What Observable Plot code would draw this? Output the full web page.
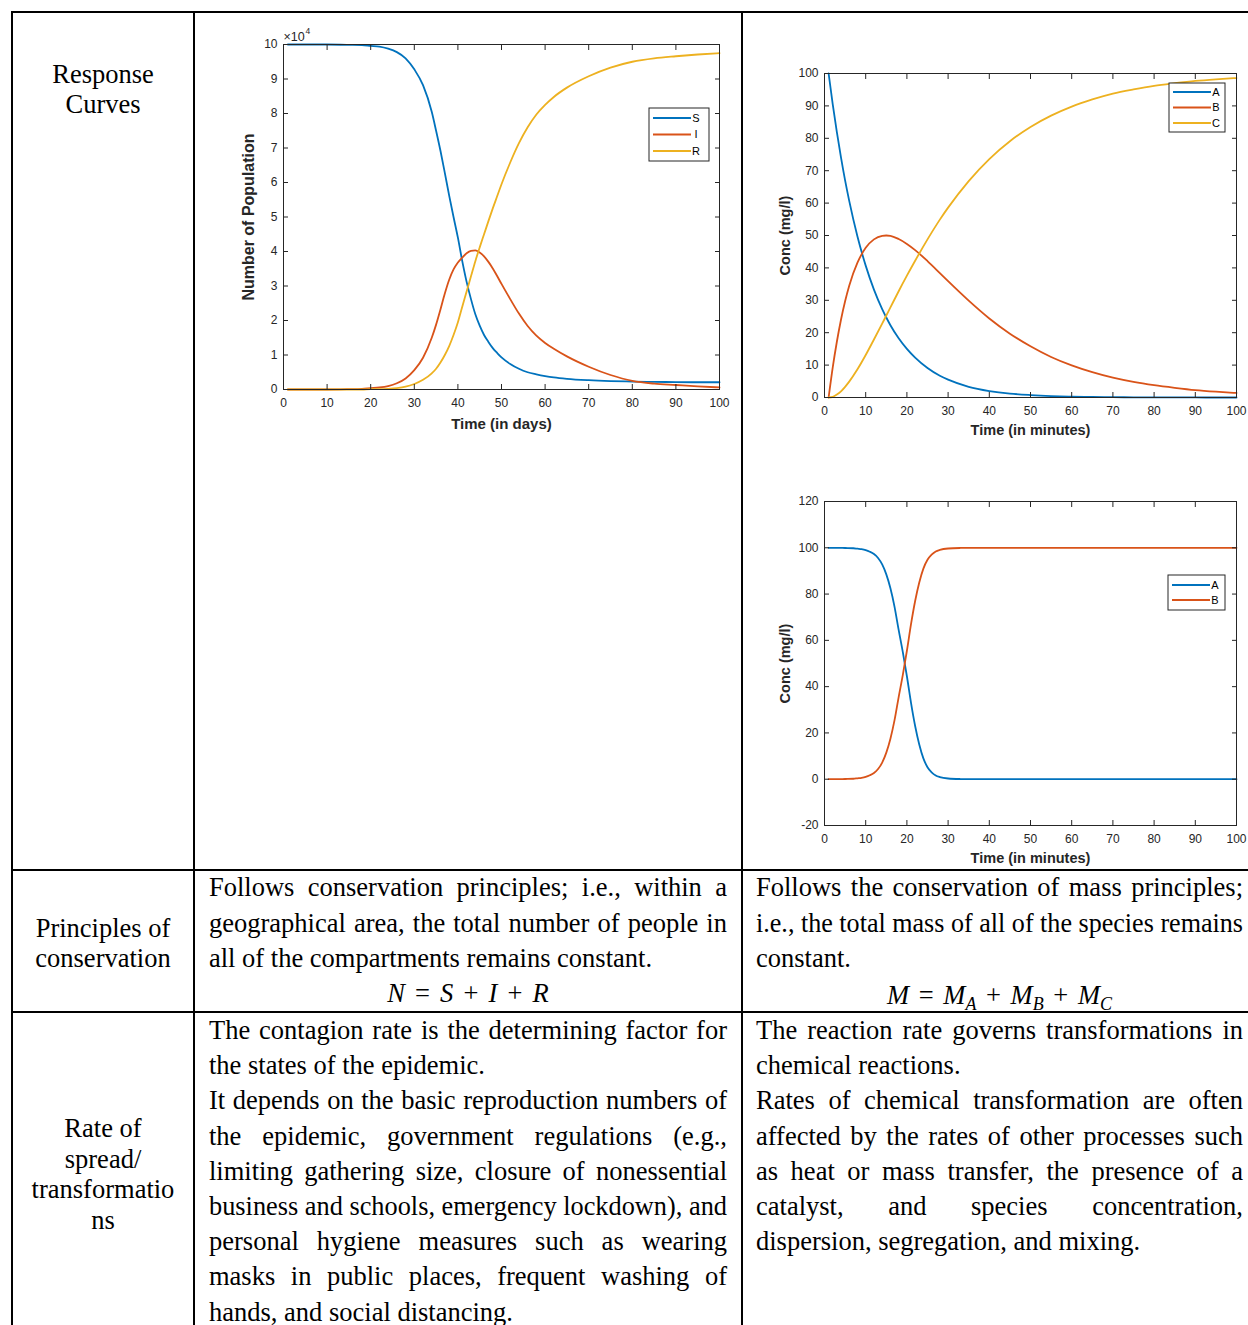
<!DOCTYPE html>
<html><head><meta charset="utf-8">
<script src="https://cdn.jsdelivr.net/npm/d3@7"></script>
<script src="https://cdn.jsdelivr.net/npm/@observablehq/plot@0.6"></script>
<style>
html,body{margin:0;padding:0;background:#fff;}
#page{position:relative;width:1248px;height:1325px;overflow:hidden;background:#fff;}
.rule{position:absolute;background:#000;}
.ln{position:absolute;white-space:nowrap;font-family:"Liberation Serif","Times New Roman",serif;font-size:26.5px;color:#000;height:30px;line-height:30px;}
.ln span{display:inline-block;transform-origin:left center;}
.math i{font-style:italic;}
.math sub{font-size:18px;vertical-align:-6px;line-height:0;}
</style></head><body><div id="page"></div>
<script>
// ---------- Chart 1: SIR model (values in units of 10^4) ----------
const sirDays = [1,5,10,15,18,20,22,24,26,28,30,32,34,35,36,37,38,39,40,41,42,43,44,45,46,47,48,49,50,52,54,56,58,60,62,65,70,75,80,85,90,95,100];
const sirS = [10,10,10,9.99,9.98,9.96,9.94,9.88,9.78,9.60,9.28,8.82,8.05,7.50,6.92,6.28,5.62,5.00,4.40,3.72,3.12,2.62,2.18,1.85,1.58,1.38,1.20,1.06,0.93,0.74,0.60,0.50,0.44,0.39,0.35,0.31,0.27,0.245,0.23,0.22,0.215,0.21,0.21];
const sirI = [0,0,0,0.01,0.02,0.04,0.06,0.10,0.18,0.32,0.56,0.92,1.50,1.88,2.32,2.78,3.18,3.48,3.68,3.82,3.95,4.02,4.03,3.97,3.86,3.70,3.51,3.29,3.06,2.62,2.20,1.84,1.56,1.35,1.18,0.96,0.66,0.42,0.25,0.17,0.13,0.09,0.06];
const sirR = [0,0,0,0,0,0.01,0.01,0.02,0.04,0.08,0.16,0.28,0.47,0.60,0.78,1.00,1.26,1.58,1.95,2.40,2.84,3.28,3.72,4.12,4.50,4.88,5.25,5.60,5.95,6.58,7.14,7.60,7.97,8.25,8.48,8.75,9.08,9.33,9.50,9.60,9.66,9.71,9.75];
const sirNames = ["S","I","R"];
const sirYTicks = [0,1,2,3,4,5,6,7,8,9,10];

// ---------- Chart 2: consecutive reaction A -> B -> C ----------
const rxnTime = [1,2,3,4,5,6,8,10,12,14,15,16,18,20,22,25,28,30,35,40,45,50,55,60,65,70,75,80,85,90,95,100];
const rxnA = [100,90.5,81.9,74.1,67.0,60.7,49.7,40.7,33.3,27.3,24.7,22.3,18.3,15.0,12.3,9.1,6.7,5.5,3.3,2.0,1.2,0.75,0.45,0.27,0.17,0.1,0.06,0.04,0.02,0.01,0,0];
const rxnB = [0,9.3,17.2,24.0,29.7,34.5,41.6,46.2,48.8,49.9,50.0,49.9,48.9,47.4,45.5,42.1,38.4,35.9,29.9,24.4,19.7,15.8,12.5,9.9,7.8,6.1,4.8,3.8,3.0,2.3,1.8,1.4];
const rxnC = [0,0.2,0.9,1.9,3.3,4.9,8.7,13.1,17.9,22.8,25.3,27.8,32.8,37.6,42.2,48.8,54.9,58.6,66.8,73.6,79.1,83.5,87.0,89.8,92.0,93.8,95.1,96.2,97.0,97.7,98.2,98.6];
const rxnNames = ["A","B","C"];
const rxnYTicks = [0,10,20,30,40,50,60,70,80,90,100];

// ---------- Chart 3: autocatalytic A -> B ----------
const autoTime = [1,3,5,7,8,9,10,11,12,13,14,15,16,17,18,19,20,21,22,23,24,25,26,27,28,30,33,36,40,50,60,70,80,90,100];
const autoA = [100,100,99.9,99.8,99.6,99.4,99.0,98.3,97.3,95.6,92.8,88.5,82.5,74.5,64.5,55.0,44.5,33.0,23.0,15.0,9.0,5.2,3.0,1.6,0.9,0.3,0.08,0.02,0,0,0,0,0,0,0];
const autoB = [0,0,0.1,0.2,0.4,0.6,1.0,1.7,2.7,4.4,7.2,11.5,17.5,25.5,35.5,45.0,55.5,67.0,77.0,85.0,91.0,94.8,97.0,98.4,99.1,99.7,99.92,99.98,100,100,100,100,100,100,100];
const autoNames = ["A","B"];
const autoYTicks = [-20,0,20,40,60,80,100,120];

const timeTicks = [0,10,20,30,40,50,60,70,80,90,100];
const seriesColors = ["#0072BD","#D95319","#EDB120"];

// ---------- Table text ----------
const headResponse = ["Response","Curves"];
const headConservation = ["Principles of","conservation"];
const headRate = ["Rate of","spread/","transformatio","ns"];
const epiConservation = [["Follows conservation principles; i.e., within a","j"],["geographical area, the total number of people in","j"],["all of the compartments remains constant.","l"]];
const chemConservation = [["Follows the conservation of mass principles;","j"],["i.e., the total mass of all of the species remains","j"],["constant.","l"]];
const epiRate = [["The contagion rate is the determining factor for","j"],["the states of the epidemic.","l"],["It depends on the basic reproduction numbers of","j"],["the epidemic, government regulations (e.g.,","j"],["limiting gathering size, closure of nonessential","j"],["business and schools, emergency lockdown), and","j"],["personal hygiene measures such as wearing","j"],["masks in public places, frequent washing of","j"],["hands, and social distancing.","l"]];
const chemRate = [["The reaction rate governs transformations in","j"],["chemical reactions.","l"],["Rates of chemical transformation are often","j"],["affected by the rates of other processes such","j"],["as heat or mass transfer, the presence of a","j"],["catalyst, and species concentration,","j"],["dispersion, segregation, and mixing.","l"]];

const page = document.getElementById("page");

// table rules
function rule(x,y,w,h){const d=document.createElement("div");d.className="rule";Object.assign(d.style,{left:x+"px",top:y+"px",width:w+"px",height:h+"px"});page.appendChild(d);}
rule(11,11,1237,2); rule(11,869,1237,2); rule(11,1011,1237,2);
rule(11,11,2,1314); rule(193,11,2,1314); rule(741,11,2,1314);

function placeLine(text, x, w, cy, mode, html){
  const d=document.createElement("div"); d.className="ln";
  Object.assign(d.style,{left:x+"px",top:(cy-15)+"px",width:w+"px",textAlign:mode==="c"?"center":"left"});
  const s=document.createElement("span");
  if(html) s.innerHTML=html; else s.textContent=text;
  d.appendChild(s); page.appendChild(d);
  const sw=s.getBoundingClientRect().width;
  if(mode==="j"){
    const n=(text.match(/ /g)||[]).length;
    const extra=(w-sw)/Math.max(n,1);
    if(extra>=0) s.style.wordSpacing=extra+"px"; else s.style.transform=`scaleX(${w/sw})`;
  } else if(mode==="l" && sw>w){ s.style.transform=`scaleX(${w/sw})`; }
  return s;
}
headResponse.forEach((t,i)=>placeLine(t,13,180,74+30*i,"c"));
headConservation.forEach((t,i)=>placeLine(t,13,180,928+30*i,"c"));
headRate.forEach((t,i)=>placeLine(t,13,180,1128+30.6*i,"c"));
epiConservation.forEach(([t,m],i)=>placeLine(t,209,518,887+35.5*i,m));
chemConservation.forEach(([t,m],i)=>placeLine(t,756,487,887+35.5*i,m));
epiRate.forEach(([t,m],i)=>placeLine(t,209,518,1030+35.2*i,m));
chemRate.forEach(([t,m],i)=>placeLine(t,756,487,1030+35.2*i,m));
placeLine("",209,518,993,"c",'<span class="math" style="word-spacing:3.5px"><i>N</i> = <i>S</i> + <i>I</i> + <i>R</i></span>');
placeLine("",756,487,995,"c",'<span class="math" style="word-spacing:3px"><i>M</i> = <i>M</i><sub><i>A</i></sub> + <i>M</i><sub><i>B</i></sub> + <i>M</i><sub><i>C</i></sub></span>');

// ---------- charts ----------
function matlabPlot(o){
  const rows=[];
  o.names.forEach((n,k)=>o.t.forEach((x,i)=>rows.push({series:n,t:x,v:o.values[k][i]})));
  const ink="#262626";
  const fmt=d=>String(d);
  const marks=[
    Plot.line(rows,{x:"t",y:"v",z:"series",stroke:"series",strokeWidth:1.8,curve:"monotone-x"}),
    Plot.frame({stroke:ink,strokeWidth:1}),
    Plot.axisX(timeTicks,{anchor:"bottom",tickSize:0,tickPadding:9,tickFormat:fmt,label:null,fill:ink,fontSize:12}),
    Plot.axisX(timeTicks,{anchor:"bottom",tickSize:5,dy:-5,fill:"none",label:null,stroke:ink}),
    Plot.axisX(timeTicks,{anchor:"top",tickSize:5,dy:5,fill:"none",label:null,stroke:ink}),
    Plot.axisY(o.yTicks,{anchor:"left",tickSize:0,tickPadding:6,tickFormat:fmt,label:null,fill:ink,fontSize:12}),
    Plot.axisY(o.yTicks,{anchor:"left",tickSize:5,dx:5,fill:"none",label:null,stroke:ink}),
    Plot.axisY(o.yTicks,{anchor:"right",tickSize:5,dx:-5,fill:"none",label:null,stroke:ink}),
    Plot.text([o.xLabel],{text:d=>d,frameAnchor:"bottom",textAnchor:"middle",lineAnchor:"middle",dy:o.xlDy,fontWeight:"bold",fontSize:o.labelSize,fill:ink}),
    Plot.text([o.yLabel],{text:d=>d,frameAnchor:"left",textAnchor:"middle",lineAnchor:"middle",dx:o.ylDx,rotate:-90,fontWeight:"bold",fontSize:o.yLabelSize||o.labelSize,fill:ink})
  ];
  if(o.extra) marks.push(...o.extra);
  const svg=Plot.plot({
    width:o.width,height:o.height,marginLeft:o.ml,marginRight:o.mr,marginTop:o.mt,marginBottom:o.mb,
    style:{fontFamily:'"Liberation Sans", Arial, sans-serif',fontSize:"12px",color:ink,background:"transparent",overflow:"visible"},
    x:{domain:[0,100]},y:{domain:o.yDomain},
    color:{domain:o.names,range:seriesColors.slice(0,o.names.length)},
    marks
  });
  Object.assign(svg.style,{position:"absolute",left:o.left+"px",top:o.top+"px",maxWidth:"none",overflow:"visible"});
  // legend
  const L=o.legend, g=d3.select(svg).append("g");
  g.append("rect").attr("x",L.x).attr("y",L.y).attr("width",L.w).attr("height",L.h).attr("fill","#fff").attr("stroke",ink).attr("stroke-width",1);
  o.names.forEach((n,i)=>{
    const yy=L.y0+L.dy*i;
    g.append("line").attr("x1",L.x+4).attr("x2",L.x+42).attr("y1",yy).attr("y2",yy).attr("stroke",seriesColors[i]).attr("stroke-width",1.8);
    g.append("text").attr("x",L.x+47).attr("y",yy).attr("dy","0.35em").attr("fill","#000").attr("font-size",11).attr("font-family",'"Liberation Sans", Arial, sans-serif').text(n);
  });
  page.appendChild(svg);
}

matlabPlot({
  left:230,top:25,width:500,height:420,ml:53,mr:11,mt:19,mb:56,
  t:sirDays,values:[sirS,sirI,sirR],names:sirNames,yDomain:[0,10],yTicks:sirYTicks,
  xLabel:"Time (in days)",yLabel:"Number of Population",xlDy:35,ylDx:-35,labelSize:15,yLabelSize:16,
  legend:{x:419,y:83,w:60,h:53,y0:93,dy:16.5},
  extra:[
    Plot.text(["×10"],{text:d=>d,frameAnchor:"top-left",textAnchor:"start",lineAnchor:"middle",dx:0,dy:-8,fontSize:12.5,fill:"#262626"}),
    Plot.text(["4"],{text:d=>d,frameAnchor:"top-left",textAnchor:"start",lineAnchor:"middle",dx:22,dy:-13,fontSize:8.5,fill:"#262626"})
  ]
});
matlabPlot({
  left:770,top:55,width:478,height:390,ml:54,mr:12,mt:18,mb:48,
  t:rxnTime,values:[rxnA,rxnB,rxnC],names:rxnNames,yDomain:[0,100],yTicks:rxnYTicks,
  xLabel:"Time (in minutes)",yLabel:"Conc (mg/l)",xlDy:33,ylDx:-39,labelSize:14.5,
  legend:{x:399,y:28,w:56,h:49,y0:37,dy:15.5}
});
matlabPlot({
  left:770,top:483,width:478,height:385,ml:54,mr:12,mt:18,mb:43,
  t:autoTime,values:[autoA,autoB],names:autoNames,yDomain:[-20,120],yTicks:autoYTicks,
  xLabel:"Time (in minutes)",yLabel:"Conc (mg/l)",xlDy:33,ylDx:-39,labelSize:14.5,
  legend:{x:398,y:92,w:57,h:35,y0:102,dy:15}
});
</script></body></html>
